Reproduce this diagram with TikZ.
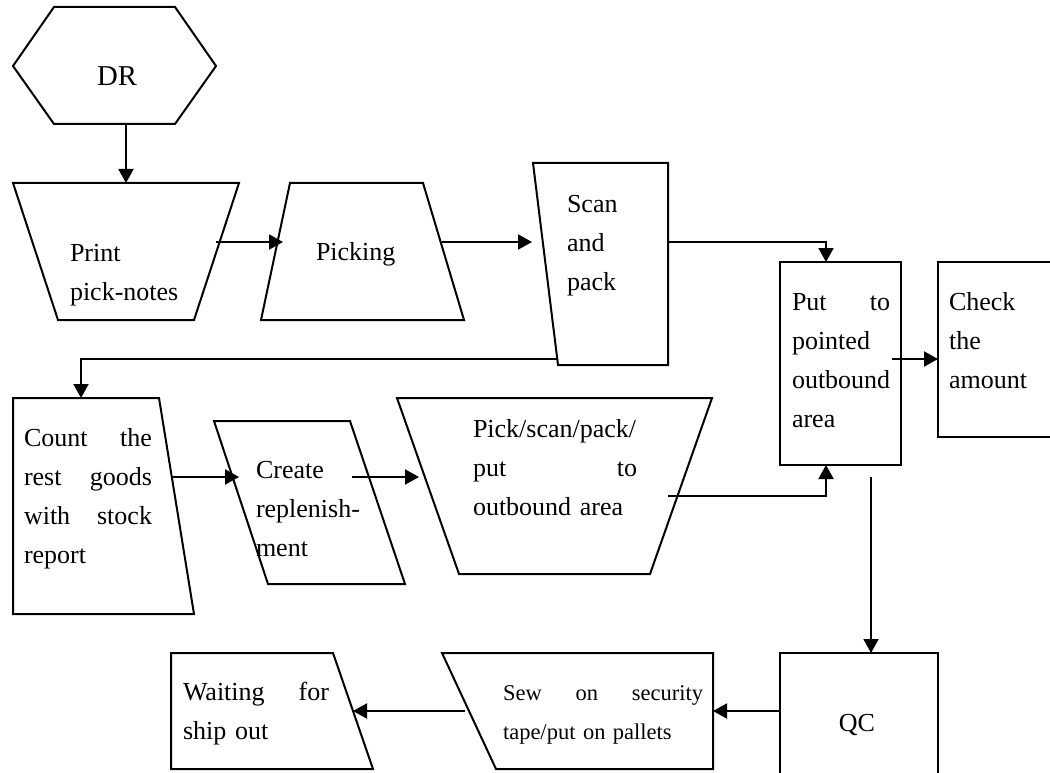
\documentclass[tikz,border=0pt]{standalone}
\usepackage{fontspec}
\setmainfont{Liberation Serif}
\usetikzlibrary{arrows.meta}

\begin{document}
\begin{tikzpicture}[x=0.4pt, y=-0.4pt, line width=0.8pt,
                    font=\fontsize{10.4}{15.6}\selectfont,
                    flow/.style={-{Triangle[length=5.6pt, width=6pt]}},
                    txt/.style={anchor=base west, inner sep=0pt, align=left},
                    small/.style={font=\fontsize{9}{15.6}\selectfont}]
    \useasboundingbox (0,0) rectangle (1050,772);
    \clip (0,0) rectangle (1050,772);
    % shapes
    \draw (13,66) -- (54,7) -- (175,7) -- (216,66) -- (175,124) -- (54,124) -- cycle;
    \draw (13,183) -- (239,183) -- (194,320) -- (58,320) -- cycle;
    \draw (290,183) -- (423,183) -- (464,320) -- (261,320) -- cycle;
    \draw (533,163) -- (668,163) -- (668,365) -- (558,365) -- cycle;
    \draw (780,262) rectangle (901,465);
    \draw (1052,262) -| (938,437) -- (1052,437);
    \draw (13,398) -- (159,398) -- (194,614) -- (13,614) -- cycle;
    \draw (214,421) -- (350,421) -- (405,584) -- (268,584) -- cycle;
    \draw (397,398) -- (712,398) -- (650,574) -- (459,574) -- cycle;
    \draw (780,780) |- (938,653) -- (938,780);
    \draw (442,653) -- (713,653) -- (713,769) -- (496,769) -- cycle;
    \draw (171,653) -- (333,653) -- (373,769) -- (171,769) -- cycle;
    % texts
    \node[inner sep=0pt, anchor=base, font=\fontsize{11.5}{15.6}\selectfont] (dr) at (117,86) {DR};
    \node[txt, text width=50pt] (print) at (69,261) {Print\\pick-notes};
    \node[txt] (picking) at (315,260) {Picking};
    \node[txt, text width=30pt] (scan) at (566,212) {Scan\\and\\pack};
    \node[txt, text width=39.2pt] (put) at (791,310) {Put\hfill to\\pointed\\outbound\\area};
    \node[txt, text width=45pt] (check) at (948,310) {Check\\the\\amount};
    \node[txt, text width=51.2pt] (count) at (23,446) {Count\hfill the\\rest\hfill goods\\with\hfill stock\\report};
    \node[txt, text width=45pt] (create) at (255,478) {Create\\replenish-\\ment};
    \node[txt, text width=65.6pt] (pss) at (472,437) {Pick/scan/pack/\\put\hfill to\\outbound area};
    \node[inner sep=0pt, anchor=base] (qc) at (857,731) {QC};
    \node[txt, small, text width=80pt] (sew) at (502,700) {Sew\hfill on\hfill security\\tape/put on pallets};
    \node[txt, text width=58.4pt] (wait) at (182,700) {Waiting\hfill for\\ship out};
    % connector ends
    \coordinate (dr-s) at (126,124);
    \coordinate (print-n) at (126,183);
    \coordinate (print-e) at (216,242);
    \coordinate (picking-w) at (283,242);
    \coordinate (picking-e) at (442,242);
    \coordinate (scan-w) at (532,242);
    \coordinate (scan-e) at (668,242);
    \coordinate (scan-sw) at (557,359);
    \coordinate (put-n) at (826,262);
    \coordinate (put-s) at (826,465);
    \coordinate (put-e) at (892,359);
    \coordinate (put-out) at (871,477);
    \coordinate (check-w) at (938,359);
    \coordinate (count-n) at (81,398);
    \coordinate (count-e) at (172,477);
    \coordinate (create-w) at (239,477);
    \coordinate (create-e) at (352,477);
    \coordinate (pss-w) at (419,477);
    \coordinate (pss-e) at (668,496);
    \coordinate (qc-n) at (871,653);
    \coordinate (qc-w) at (780,711);
    \coordinate (sew-e) at (713,711);
    \coordinate (sew-w) at (465,711);
    \coordinate (wait-e) at (353,711);
    % connectors
    \draw[flow] (dr-s) -- (print-n);
    \draw[flow] (print-e) -- (picking-w);
    \draw[flow] (picking-e) -- (scan-w);
    \draw[flow] (scan-e) -| (put-n);
    \draw[flow] (scan-sw) -| (count-n);
    \draw[flow] (count-e) -- (create-w);
    \draw[flow] (create-e) -- (pss-w);
    \draw[flow] (pss-e) -| (put-s);
    \draw[flow] (put-e) -- (check-w);
    \draw[flow] (put-out) -- (qc-n);
    \draw[flow] (qc-w) -- (sew-e);
    \draw[flow] (sew-w) -- (wait-e);
\end{tikzpicture}
\end{document}
